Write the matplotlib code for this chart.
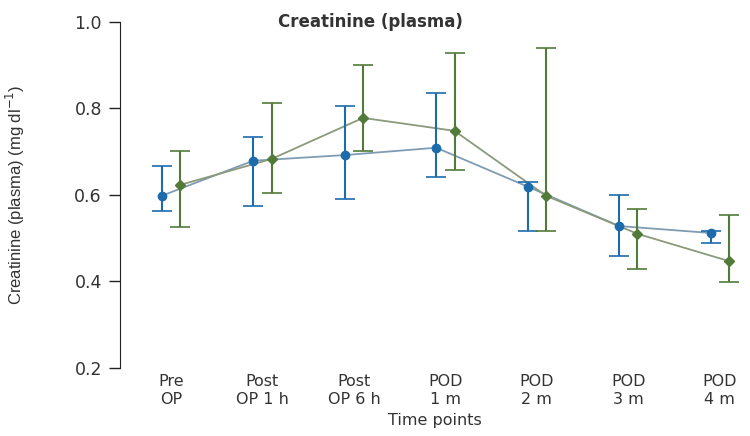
import matplotlib
matplotlib.use("Agg")
import matplotlib.pyplot as plt
import numpy as np

plt.rcParams['font.family'] = ['DejaVu Sans']

time_points = ["Pre\nOP", "Post\nOP 1 h", "Post\nOP 6 h", "POD\n1 m", "POD\n2 m", "POD\n3 m", "POD\n4 m"]

# group A (blue)
a_mean = [0.598, 0.679, 0.692, 0.709, 0.619, 0.528, 0.512]
a_upper = [0.666, 0.734, 0.806, 0.836, 0.630, 0.600, 0.516]
a_lower = [0.563, 0.575, 0.591, 0.642, 0.517, 0.459, 0.489]

# group B (green)
b_mean = [0.623, 0.683, 0.778, 0.748, 0.598, 0.510, 0.447]
b_upper = [0.702, 0.813, 0.901, 0.928, 0.940, 0.568, 0.554]
b_lower = [0.526, 0.605, 0.702, 0.658, 0.517, 0.429, 0.399]

blue = "#1c6bab"
green = "#527a38"
text_col = "#333333"

fig = plt.figure(figsize=(7.5, 4.36), dpi=100)
ax = fig.add_axes([0.16, 0.156, 0.84, 0.794])

x = np.arange(len(time_points))
off = 0.1

for xs, mean, lo, hi, col, mk, lcol in [
    (x - off, a_mean, a_lower, a_upper, blue, "o", "#7f9cb4"),
    (x + off, b_mean, b_lower, b_upper, green, "D", "#8a9a7a"),
]:
    mean = np.array(mean)
    yerr = [mean - np.array(lo), np.array(hi) - mean]
    ax.plot(xs, mean, color=lcol, lw=1.3, zorder=2)
    ax.errorbar(xs, mean, yerr=yerr, fmt="none", ecolor=col, elinewidth=1.5,
                capsize=7, capthick=1.2, zorder=3)
    ax.plot(xs, mean, marker=mk, ls="none", color=col,
            markersize=6 if mk == "o" else 5, zorder=4)

ax.set_xlim(-0.557, 6.33)
ax.set_ylim(0.2, 1.0)
ax.set_yticks([0.2, 0.4, 0.6, 0.8, 1.0])
ax.set_yticklabels(["0.2", "0.4", "0.6", "0.8", "1.0"])
ax.set_xticks(x)
ax.set_xticklabels(time_points, fontsize=11.5, color=text_col, linespacing=1.25)

for s in ["top", "right", "bottom"]:
    ax.spines[s].set_visible(False)
ax.spines["left"].set_color("#222222")
ax.tick_params(axis="y", length=8, width=1, colors="#222222", labelsize=12.5,
               labelcolor=text_col, pad=5)
ax.tick_params(axis="x", length=0, pad=4)

ax.set_xlabel("Time points", fontsize=11.5, color=text_col, labelpad=5)
ax.set_ylabel("Creatinine (plasma) (mg dl$^{-1}$)", fontsize=12, color=text_col,
              family="Liberation Sans")
ax.yaxis.set_label_coords(-0.148, 0.5)
ax.text(0.397, 1.0, "Creatinine (plasma)", transform=ax.transAxes,
        ha="center", va="center", fontsize=12, fontweight="bold", color=text_col)

fig.savefig("out.png", dpi=100)
